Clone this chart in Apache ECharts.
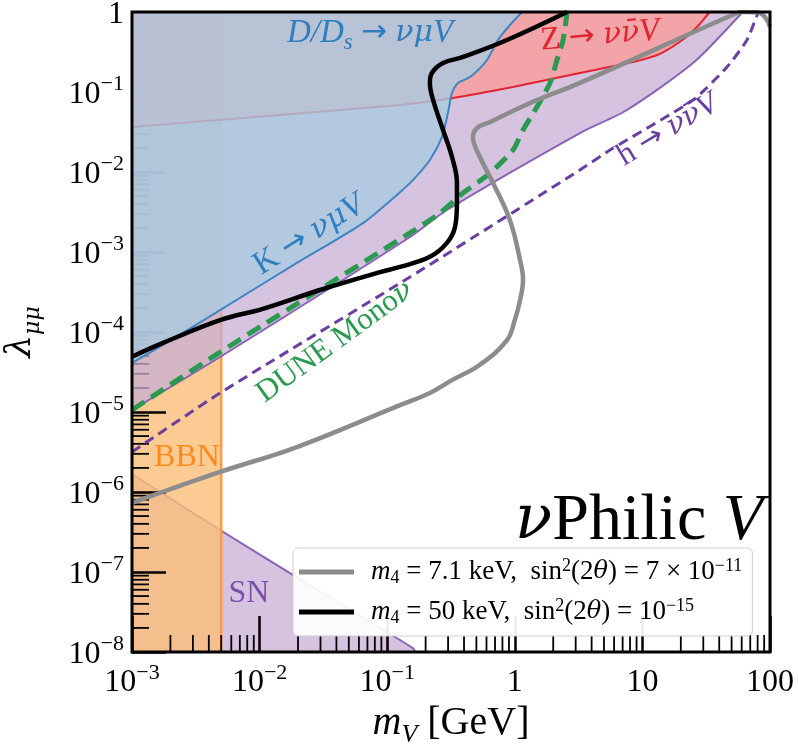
<!DOCTYPE html>
<html>
<head>
<meta charset="utf-8">
<script src="https://cdn.jsdelivr.net/npm/echarts@6/dist/echarts.min.js"></script>
<style>
  html, body { margin: 0; padding: 0; background: #fff; }
  #chart { width: 798px; height: 749px; }
</style>
</head>
<body>
<div id="chart"></div>
<script>
// ---- data, [m_V (GeV), lambda_mumu] ----
var kBound = [[1e-3, 4.1e-5], [1.75e-3, 6.9e-5], [4.9e-3, 1.88e-4], [0.0196, 7.3e-4], [0.0646, 2.3e-3],
  [0.126, 5.6e-3], [0.159, 7.9e-3], [0.216, 0.0141], [0.269, 0.0274], [0.299, 0.0546], [0.322, 0.0972],
  [0.359, 0.130], [0.446, 0.154], [0.605, 0.251], [0.738, 0.447], [0.916, 0.688], [1.14, 1]];
var zBound = [[1e-3, 0.0365], [0.126, 0.0688], [0.328, 0.0841], [0.968, 0.1155], [3.24, 0.173],
  [8.43, 0.237], [13.7, 0.30], [21.6, 0.473], [28.2, 0.708], [32.7, 0.944], [33.9, 1]];
var monoBound = [[1e-3, 1.06e-5], [4.9e-3, 4.87e-5], [0.151, 1.54e-3], [0.294, 3.35e-3], [3.24, 0.0307],
  [7.57, 0.0596], [24.9, 0.230], [58.2, 0.917], [60, 1]];
var snBound = [[1e-3, 1.68e-6], [4.9e-3, 3.35e-7], [0.0173, 9.7e-8], [0.159, 1.12e-8], [0.166, 1e-8]];
var bbnBox = [[1e-3, 1], [5e-3, 1], [5e-3, 1e-8]];
var higgs = [[1e-3, 3.16e-6], [4.9e-3, 1.73e-5], [0.151, 4.87e-4], [3.24, 0.0106], [5.57, 0.0188],
  [24.9, 0.0794], [46, 0.205], [66, 0.447], [80.5, 0.97], [83, 1]];
var dune = [[1e-3, 1.06e-5], [4.9e-3, 5.6e-5], [0.151, 1.73e-3], [0.259, 3.07e-3], [0.393, 5.46e-3],
  [0.640, 9.7e-3], [0.968, 0.0188], [1.16, 0.0335], [1.49, 0.065], [1.89, 0.13], [2.14, 0.251],
  [2.39, 0.447], [2.57, 1]];
var sterile71 = [[1e-3, 7.3e-7], [4.9e-3, 1.78e-6], [0.0196, 3.65e-6], [0.126, 1.22e-5], [0.216, 1.73e-5],
  [0.322, 2.5e-5], [0.533, 3.9e-5], [0.869, 7.9e-5], [1.0, 1.41e-4], [1.10, 2.5e-4], [1.16, 4.5e-4],
  [1.10, 7.9e-4], [0.916, 2.5e-3], [0.675, 7.3e-3], [0.533, 0.0154], [0.470, 0.0274], [0.506, 0.0355],
  [0.640, 0.0422], [1.32, 0.0729], [3.24, 0.13], [55.1, 0.97], [62, 1.0], [80, 0.99], [92, 0.85], [100, 0.65]];
var sterile50 = [[1e-3, 4.9e-5], [1.75e-3, 7.3e-5], [4.9e-3, 1.41e-4], [0.0106, 1.95e-4], [0.0297, 3.35e-4],
  [0.0879, 5.6e-4], [0.126, 6.5e-4], [0.216, 8.7e-4], [0.294, 1.3e-3], [0.340, 2.05e-3], [0.352, 4.1e-3],
  [0.352, 7.3e-3], [0.322, 0.0154], [0.274, 0.0335], [0.229, 0.0794], [0.216, 0.13], [0.224, 0.173],
  [0.274, 0.230], [0.393, 0.274], [0.869, 0.447], [2.57, 1]];

// ---- ticks ----
var xTicks = [1e-3, 1e-2, 1e-1, 1, 10, 100];
var xTickLabels = ['{b|10}{s|−3}', '{b|10}{s|−2}', '{b|10}{s|−1}', '{b|1}', '{b|10}', '{b|100}'];
var yTicks = [1, 1e-1, 1e-2, 1e-3, 1e-4, 1e-5, 1e-6, 1e-7, 1e-8];
var yTickLabels = ['{b|1}', '{b|10}{s|−1}', '{b|10}{s|−2}', '{b|10}{s|−3}', '{b|10}{s|−4}',
  '{b|10}{s|−5}', '{b|10}{s|−6}', '{b|10}{s|−7}', '{b|10}{s|−8}'];
var minorMant = [2, 3, 4, 5, 6, 7, 8, 9];

var legendNames = ['m4 = 7.1 keV', 'm4 = 50 keV'];
var legendTexts = [
  '{i|m}{sub|4}{r| = 7.1 keV,  sin}{sup|2}{r|(2}{g|θ}{r|) = 7 × 10}{sup|−11}',
  '{i|m}{sub|4}{r| = 50 keV,  sin}{sup|2}{r|(2}{g|θ}{r|) = 10}{sup|−15}'
];

var FONT = "'Liberation Serif', 'DejaVu Serif', serif";
var GREEK = "'DejaVu Serif', serif";

function pick(ticks, labels) {
  return function (v) {
    for (var i = 0; i < ticks.length; i++) {
      if (Math.abs(Math.log10(ticks[i]) - Math.log10(v)) < 1e-6) return labels[i];
    }
    return '';
  };
}

var tickRich = {
  b: { fontFamily: FONT, fontSize: 32, lineHeight: 37, verticalAlign: 'bottom', color: '#000' },
  s: { fontFamily: FONT, fontSize: 22, lineHeight: 20, verticalAlign: 'top', color: '#000' }
};

// minor tick positions on both log axes
var xMinor = [], yMinor = [];
for (var e = -3; e < 2; e++) minorMant.forEach(function (m) { xMinor.push([m * Math.pow(10, e), 1e-8]); });
for (var e2 = -8; e2 < 0; e2++) minorMant.forEach(function (m) { yMinor.push([1e-3, m * Math.pow(10, e2)]); });

function minorTicks(data, dir) {
  return {
    type: 'custom', z: 4, silent: true, data: data,
    renderItem: function (params, api) {
      var p = api.coord([api.value(0), api.value(1)]);
      var len = 17;
      var shape = dir === 'x'
        ? { x1: p[0], y1: p[1], x2: p[0], y2: p[1] - len }
        : { x1: p[0], y1: p[1], x2: p[0] + len, y2: p[1] };
      return { type: 'line', shape: shape, style: { stroke: '#000', lineWidth: 1.8 } };
    }
  };
}

function region(data, lineColor, lineW, fill, origin, z) {
  return {
    type: 'line', data: data, symbol: 'none', smooth: 0.25, silent: true, z: z,
    lineStyle: { color: lineColor, width: lineW },
    areaStyle: { color: fill, origin: origin, opacity: 1 }
  };
}

function curve(name, data, color, width, dash, smooth, z) {
  return {
    name: name, type: 'line', data: data, symbol: 'none', smooth: smooth, silent: true, z: z,
    itemStyle: { color: color },
    lineStyle: { color: color, width: width, type: dash || 'solid' }
  };
}

function richFor(s) {
  var lh = Math.round(s * 1.3);
  return {
    r: { fontFamily: FONT, fontSize: s, lineHeight: lh },
    i: { fontFamily: FONT, fontSize: s, fontStyle: 'italic', lineHeight: lh },
    g: { fontFamily: GREEK, fontSize: Math.round(s * 0.92), fontStyle: 'italic', lineHeight: lh },
    a: { fontFamily: "'DejaVu Sans', sans-serif", fontSize: Math.round(s * 0.95), lineHeight: lh },
    sub: { fontFamily: FONT, fontSize: Math.round(s * 0.7), fontStyle: 'italic',
      lineHeight: Math.round(s * 0.9), verticalAlign: 'bottom' }
  };
}

function note(x, y, rot, text, color, size, align) {
  return {
    type: 'text', x: x, y: y, rotation: rot * Math.PI / 180, z: 100, silent: true,
    style: {
      text: text, fill: color, font: size + 'px ' + FONT,
      align: align || 'center', verticalAlign: 'middle',
      textAlign: align || 'center', textVerticalAlign: 'middle',
      rich: richFor(size)
    }
  };
}

var chart = echarts.init(document.getElementById('chart'));
chart.setOption({
  animation: false,
  backgroundColor: '#fff',
  grid: { left: 132, top: 12, width: 638, height: 640, show: true, borderColor: '#000', borderWidth: 3,
    backgroundColor: 'transparent', z: 20, containLabel: false, outerBoundsMode: 'none' },
  xAxis: {
    type: 'log', logBase: 10, min: 1e-3, max: 100, splitNumber: 5, z: 4,
    axisLine: { show: false }, splitLine: { show: false },
    axisTick: { inside: true, length: 36, lineStyle: { color: '#000', width: 2.5 } },
    axisLabel: { margin: 10, formatter: pick(xTicks, xTickLabels), rich: tickRich, showMinLabel: true, showMaxLabel: true },
    name: '{i|m}{sub|V}{r| [GeV]}', nameLocation: 'middle', nameGap: 34,
    nameTextStyle: { rich: {
      i: { fontFamily: FONT, fontSize: 40, fontStyle: 'italic', lineHeight: 48, color: '#000' },
      r: { fontFamily: FONT, fontSize: 40, lineHeight: 48, color: '#000' },
      sub: { fontFamily: FONT, fontSize: 26, fontStyle: 'italic', lineHeight: 32, verticalAlign: 'bottom', color: '#000' }
    } }
  },
  yAxis: {
    type: 'log', logBase: 10, min: 1e-8, max: 1, splitNumber: 8, z: 4,
    axisLine: { show: false }, splitLine: { show: false },
    axisTick: { inside: true, length: 34, lineStyle: { color: '#000', width: 2.5 } },
    axisLabel: { margin: 8, formatter: pick(yTicks, yTickLabels), rich: tickRich, showMinLabel: true, showMaxLabel: true },
    name: '{g|λ}{sub|μμ}', nameLocation: 'middle', nameGap: 88, nameRotate: 90,
    nameTextStyle: { rich: {
      g: { fontFamily: GREEK, fontSize: 36, fontStyle: 'italic', lineHeight: 46, color: '#000' },
      sub: { fontFamily: GREEK, fontSize: 22, fontStyle: 'italic', lineHeight: 30, verticalAlign: 'bottom', color: '#000' }
    } }
  },
  legend: {
    data: legendNames, orient: 'vertical', left: 293, top: 548, icon: 'rect', z: 30,
    itemWidth: 55, itemHeight: 5, itemGap: 10, padding: [9, 10, 9, 6],
    backgroundColor: 'rgba(255,255,255,0.92)', borderColor: '#cfcfcf', borderWidth: 1, borderRadius: 5,
    formatter: function (n) { return legendTexts[legendNames.indexOf(n)]; },
    textStyle: { color: '#000', padding: [0, 0, 0, 12], rich: {
      r: { fontFamily: FONT, fontSize: 27, lineHeight: 30 },
      i: { fontFamily: FONT, fontSize: 27, fontStyle: 'italic', lineHeight: 30 },
      g: { fontFamily: GREEK, fontSize: 24, fontStyle: 'italic', lineHeight: 30 },
      sub: { fontFamily: FONT, fontSize: 18, lineHeight: 20, verticalAlign: 'bottom' },
      sup: { fontFamily: FONT, fontSize: 18, lineHeight: 15, verticalAlign: 'top' }
    } }
  },
  graphic: [
    note(370, 33, 0, '{i|D/D}{sub|s}{r| }{a|→}{r| }{g|νμ}{i|V}', '#2f7fc0', 33),
    note(600, 36, 5, '{r|Z }{a|→}{r| }{g|νν̄}{i|V}', '#e0252f', 33),
    note(668, 130, 31, '{r|h }{a|→}{r| }{g|νν̄}{i|V}', '#6a3fa0', 32),
    note(309, 235, 32, '{r|K }{a|→}{r| }{g|νμ}{i|V}', '#2f7fc0', 33),
    note(335, 342, 36, '{r|DUNE Mono}{g|ν}', '#2a9a50', 31),
    note(187, 458, 0, '{r|BBN}', '#ff8c1a', 32),
    note(249, 594, 0, '{r|SN}', '#7a4fb0', 32),
    note(763, 522, 0, '{g|ν}{r|Philic }{i|V}', '#000', 66, 'right')
  ],
  series: [
    minorTicks(xMinor, 'x'),
    minorTicks(yMinor, 'y'),
    region(snBound, '#8a63b8', 2, 'rgba(199,175,212,0.75)', 'start', 2),
    region(bbnBox, '#ff9a40', 2.5, 'rgba(251,190,120,0.8)', 'start', 3),
    region(monoBound, '#8a63b8', 2, 'rgba(199,175,212,0.75)', 'end', 5),
    region(zBound, '#e0252f', 2, 'rgba(247,159,160,0.85)', 'end', 6),
    region(kBound, '#3d85c3', 2, 'rgba(169,202,224,0.8)', 'end', 7),
    curve('h', higgs, '#6a3fa0', 3, [10, 6], 0.2, 8),
    curve('dune', dune, '#2a9a50', 5, [15, 8], 0.2, 9),
    curve(legendNames[0], sterile71, '#8c8c8c', 4.5, null, 0.4, 10),
    curve(legendNames[1], sterile50, '#000000', 4.5, null, 0.4, 11)
  ]
});
</script>
</body>
</html>
